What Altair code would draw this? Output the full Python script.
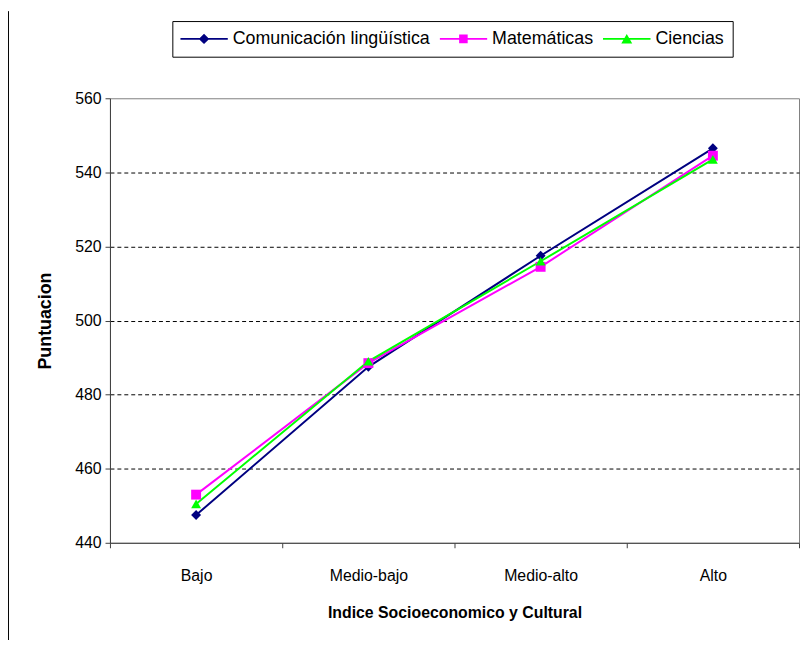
import altair as alt
import pandas as pd

niveles = ["Bajo", "Medio-bajo", "Medio-alto", "Alto"]
series = ["Comunicación lingüística", "Matemáticas", "Ciencias"]
comunicacion = [447.5, 487.5, 517.5, 546.5]
matematicas = [453.0, 488.5, 514.5, 544.5]
ciencias = [450.5, 489.0, 516.0, 543.5]
y_ticks = [440, 460, 480, 500, 520, 540, 560]
colores = ["#000080", "#FF00FF", "#00FF00"]

rows = []
for s, vals in zip(series, [comunicacion, matematicas, ciencias]):
    for n, v in zip(niveles, vals):
        rows.append({"nivel": n, "serie": s, "puntuacion": v})
df = pd.DataFrame(rows)

FONT = "Liberation Sans"

# legend symbols: a short line with the series marker in the middle
LINE = "M-1,-0.042L1,-0.042L1,0.042L-1,0.042Z"
leg_paths = [
    LINE + "M0,-0.22L0.22,0L0,0.22L-0.22,0Z",
    LINE + "M-0.18,-0.18L0.18,-0.18L0.18,0.18L-0.18,0.18Z",
    LINE + "M0,-0.21L0.23,0.19L-0.23,0.19Z",
]

x_enc = alt.X(
    "nivel:N",
    sort=niveles,
    scale=alt.Scale(type="band", domain=niveles, paddingInner=0, paddingOuter=0),
    axis=alt.Axis(
        title="Indice Socioeconomico y Cultural",
        labelAngle=0,
        tickBand="extent",
        tickSize=5,
        labelPadding=20,
        titlePadding=21,
        titleFontSize=16,
        grid=False,
    ),
)
y_enc = alt.Y(
    "puntuacion:Q",
    scale=alt.Scale(domain=[440, 560], nice=False, zero=False),
    axis=alt.Axis(
        values=y_ticks,
        title="Puntuacion",
        titleFontSize=18,
        tickSize=5,
        labelPadding=4,
        titlePadding=20,
        grid=True,
        gridDash=[4, 3],
        gridColor="#000000",
        gridOpacity=alt.condition("datum.value >= 560 || datum.value <= 440", alt.value(0), alt.value(1)),
    ),
)

color_scale = alt.Scale(domain=series, range=colores)

base = alt.Chart(df)

lines = base.mark_line(strokeWidth=2).encode(
    x=x_enc,
    y=y_enc,
    color=alt.Color("serie:N", scale=color_scale, legend=None),
)

points = base.mark_point(filled=True, opacity=1, size=100).encode(
    x=x_enc,
    y=y_enc,
    color=alt.Color("serie:N", scale=color_scale, legend=None),
    shape=alt.Shape(
        "serie:N",
        scale=alt.Scale(domain=series, range=["diamond", "square", "triangle-up"]),
        legend=None,
    ),
)

legend_layer = base.mark_point(filled=True, opacity=1).encode(
    x=x_enc,
    y=y_enc,
    color=alt.Color(
        "serie:N",
        scale=color_scale,
        legend=alt.Legend(
            title=None,
            orient="none",
            legendX=63,
            legendY=-78,
            direction="horizontal",
            strokeColor="#000000",
            fillColor="#ffffff",
            padding=8,
            clipHeight=20,
            symbolSize=2304,
            symbolStrokeWidth=0,
            symbolOpacity=1,
            labelFont=FONT,
            labelFontSize=18,
            labelLimit=500,
            labelColor="#000000",
            labelOffset=5,
            columnPadding=9,
        ),
    ),
    shape=alt.Shape("serie:N", scale=alt.Scale(domain=series, range=leg_paths)),
).transform_filter("false")

border = alt.Chart(pd.DataFrame({"b": [0]})).mark_rule(color="#000000", strokeWidth=1).encode(
    x=alt.value(-102.5), y=alt.value(-88), y2=alt.value(560)
)

chart = (
    alt.layer(lines, points, legend_layer, border)
    .resolve_scale(color="independent", shape="independent")
    .properties(
        width=696,
        height=449,
        padding={"left": 103, "top": 88, "right": 2, "bottom": 95},
        autosize=alt.AutoSizeParams(type="none"),
    )
    .configure_view(stroke="#808080", strokeWidth=1)
    .configure_axis(
        labelFont=FONT,
        titleFont=FONT,
        labelFontSize=16,
        titleFontWeight="bold",
        labelColor="#000000",
        titleColor="#000000",
        domainColor="#404040",
        tickColor="#404040",
        domainWidth=1,
    )
)

chart.save("out.html", embed_options={"renderer": "svg", "actions": False})
